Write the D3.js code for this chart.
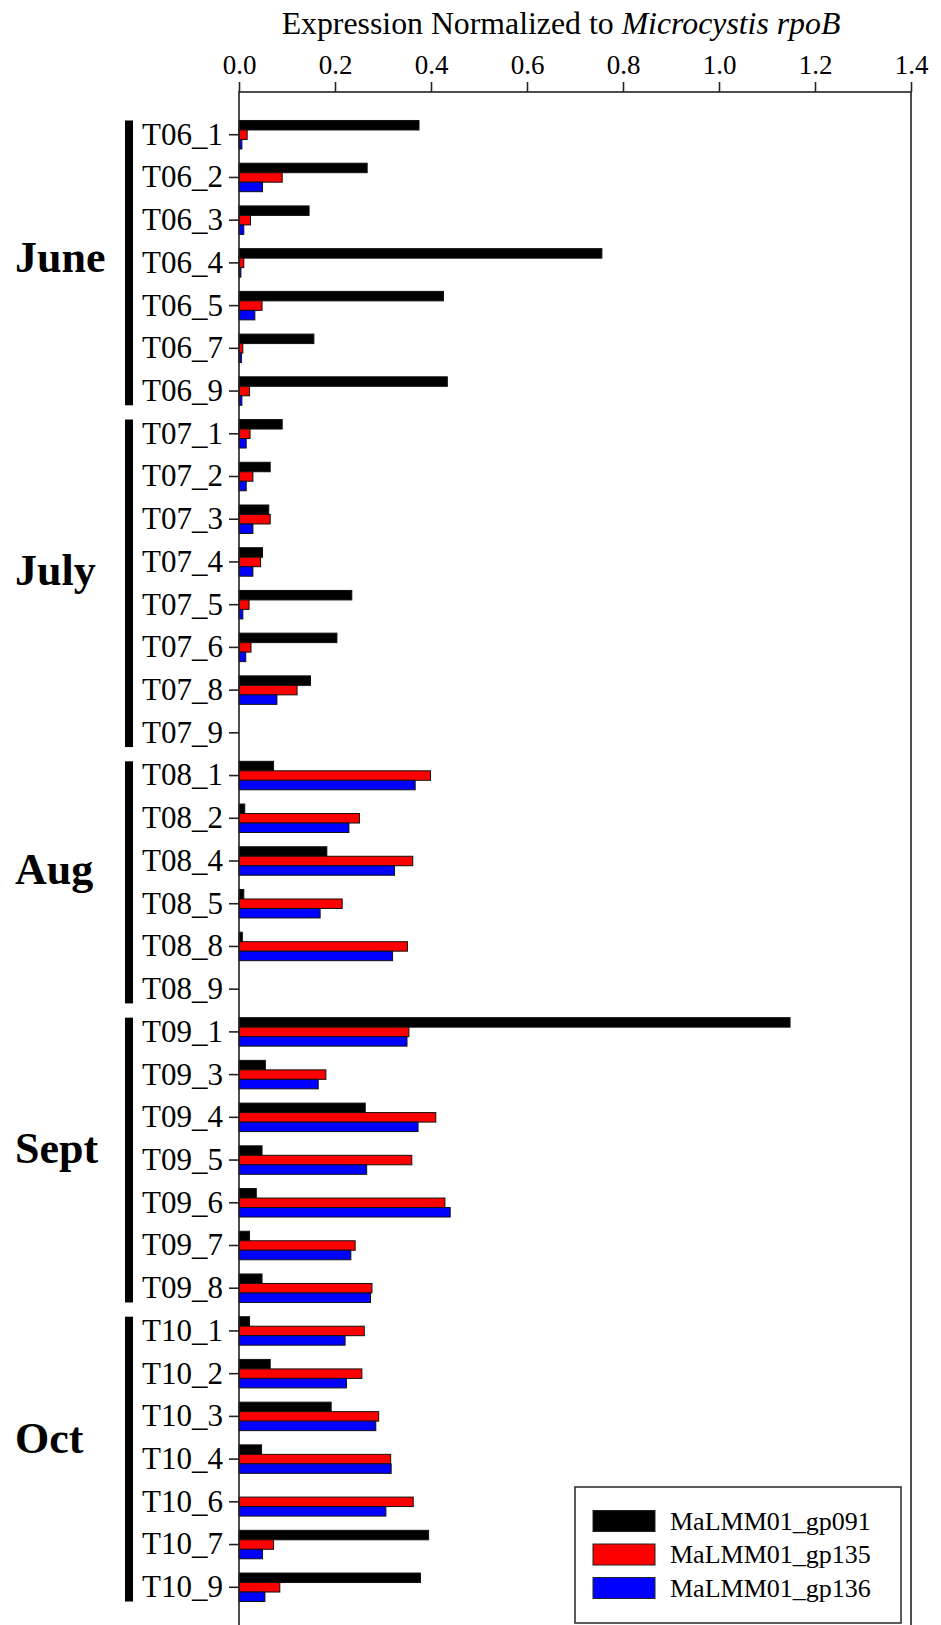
<!DOCTYPE html>
<html>
<head>
<meta charset="utf-8">
<script src="https://cdn.jsdelivr.net/npm/d3@7"></script>
<style>
  html, body { margin: 0; padding: 0; background: #fff; }
  svg { display: block; font-family: "Liberation Serif", "Times New Roman", serif; }
</style>
</head>
<body>
<svg id="chart" width="941" height="1625"></svg>
<script>
// Sample groups (month) and the samples in each
const months = ["June", "July", "Aug", "Sept", "Oct"];
const monthSamples = [
  ["T06_1", "T06_2", "T06_3", "T06_4", "T06_5", "T06_7", "T06_9"],
  ["T07_1", "T07_2", "T07_3", "T07_4", "T07_5", "T07_6", "T07_8", "T07_9"],
  ["T08_1", "T08_2", "T08_4", "T08_5", "T08_8", "T08_9"],
  ["T09_1", "T09_3", "T09_4", "T09_5", "T09_6", "T09_7", "T09_8"],
  ["T10_1", "T10_2", "T10_3", "T10_4", "T10_6", "T10_7", "T10_9"]
];
const samples = monthSamples.flat();

// Genes and their expression relative to Microcystis rpoB (one value per sample)
const genes = ["MaLMM01_gp091", "MaLMM01_gp135", "MaLMM01_gp136"];
const gp091 = [
  0.375, 0.267, 0.146, 0.756, 0.426, 0.156, 0.434,
  0.090, 0.065, 0.062, 0.049, 0.235, 0.204, 0.149, 0,
  0.072, 0.012, 0.183, 0.010, 0.007, 0,
  1.148, 0.055, 0.263, 0.048, 0.036, 0.022, 0.048,
  0.022, 0.065, 0.192, 0.047, 0, 0.395, 0.378
];
const gp135 = [
  0.017, 0.090, 0.024, 0.010, 0.048, 0.008, 0.022,
  0.023, 0.029, 0.065, 0.045, 0.021, 0.025, 0.121, 0,
  0.399, 0.251, 0.362, 0.215, 0.351, 0,
  0.354, 0.181, 0.410, 0.360, 0.429, 0.242, 0.277,
  0.261, 0.256, 0.291, 0.316, 0.363, 0.072, 0.085
];
const gp136 = [
  0.006, 0.049, 0.010, 0.004, 0.033, 0.005, 0.006,
  0.015, 0.015, 0.029, 0.029, 0.008, 0.014, 0.079, 0,
  0.367, 0.229, 0.324, 0.169, 0.320, 0,
  0.350, 0.165, 0.373, 0.266, 0.440, 0.233, 0.274,
  0.221, 0.224, 0.285, 0.317, 0.306, 0.049, 0.054
];
const geneColors = ["#000000", "#ff0000", "#0000ff"];
const xTicks = [0, 0.2, 0.4, 0.6, 0.8, 1.0, 1.2, 1.4];

const seriesValues = [gp091, gp135, gp136];

const svg = d3.select("#chart");
const plot = { left: 239, right: 911, top: 92, bottom: 1630 };

const x = d3.scaleLinear().domain([0, 1.4]).range([plot.left, plot.right]);
const y = d3.scaleBand()
  .domain(samples)
  .range([plot.top, plot.bottom])
  .paddingInner(1 / 3)
  .paddingOuter(2 / 3);
const ySub = d3.scaleBand().domain(genes).range([0, y.bandwidth()]);
const color = d3.scaleOrdinal().domain(genes).range(geneColors);

// Title
const title = svg.append("text")
  .attr("x", (plot.left + plot.right) / 2 - 14)
  .attr("y", 34)
  .attr("text-anchor", "middle")
  .attr("font-size", 31.8)
  .attr("fill", "#000");
title.append("tspan").text("Expression Normalized to ");
title.append("tspan").attr("font-style", "italic").text("Microcystis rpoB");

// Bars
const barData = [];
samples.forEach((s, i) => {
  genes.forEach((g, j) => {
    barData.push({ sample: s, gene: g, value: seriesValues[j][i] });
  });
});

svg.append("g")
  .selectAll("rect")
  .data(barData.filter(d => d.value > 0))
  .join("rect")
  .attr("x", x(0))
  .attr("y", d => y(d.sample) + ySub(d.gene))
  .attr("width", d => x(d.value) - x(0))
  .attr("height", ySub.bandwidth())
  .attr("fill", d => color(d.gene))
  .attr("stroke", "#111")
  .attr("stroke-width", 1);

// Frame around the plot area
svg.append("rect")
  .attr("x", plot.left)
  .attr("y", plot.top)
  .attr("width", plot.right - plot.left)
  .attr("height", plot.bottom - plot.top)
  .attr("fill", "none")
  .attr("stroke", "#222")
  .attr("stroke-width", 1.6);

// Top value axis
const xAxis = svg.append("g")
  .attr("transform", `translate(0,${plot.top})`)
  .call(d3.axisTop(x).tickValues(xTicks).tickFormat(d3.format(".1f")).tickSize(10).tickPadding(8));
xAxis.select(".domain").remove();
xAxis.selectAll(".tick line").attr("stroke", "#222").attr("stroke-width", 1.6);
xAxis.selectAll(".tick text")
  .attr("font-size", 27)
  .attr("font-family", "Liberation Serif, Times New Roman, serif")
  .attr("fill", "#000");

// Left sample axis
const yAxis = svg.append("g")
  .attr("transform", `translate(${plot.left},0)`)
  .call(d3.axisLeft(y).tickSize(10).tickPadding(6));
yAxis.select(".domain").remove();
yAxis.selectAll(".tick line").attr("stroke", "#222").attr("stroke-width", 1.6);
yAxis.selectAll(".tick text")
  .attr("font-size", 31)
  .attr("font-family", "Liberation Serif, Times New Roman, serif")
  .attr("fill", "#000");

// Month brackets and labels (labels nudged up slightly from the bracket middle)
const labelNudge = [-5, -13, -13, -12, -21];
const half = y.bandwidth() / 2;
months.forEach((m, k) => {
  const list = monthSamples[k];
  const y0 = y(list[0]);
  const y1 = y(list[list.length - 1]) + y.bandwidth();
  svg.append("rect")
    .attr("x", 125)
    .attr("y", y0)
    .attr("width", 8)
    .attr("height", y1 - y0)
    .attr("fill", "#000");
  const mid = (y(list[0]) + y(list[list.length - 1])) / 2 + half;
  svg.append("text")
    .attr("x", 15)
    .attr("y", mid + labelNudge[k])
    .attr("dy", "0.33em")
    .attr("font-size", 44)
    .attr("font-weight", "bold")
    .attr("fill", "#000")
    .text(m);
});

// Legend
const legend = svg.append("g");
legend.append("rect")
  .attr("x", 575)
  .attr("y", 1487)
  .attr("width", 326)
  .attr("height", 136)
  .attr("fill", "#fff")
  .attr("stroke", "#333")
  .attr("stroke-width", 1.6);
const ly = d3.scalePoint().domain(genes).range([1521, 1588]);
const items = legend.selectAll("g.item")
  .data(genes)
  .join("g")
  .attr("class", "item")
  .attr("transform", d => `translate(593,${ly(d)})`);
items.append("rect")
  .attr("x", 0)
  .attr("y", -10.5)
  .attr("width", 62)
  .attr("height", 21)
  .attr("fill", d => color(d))
  .attr("stroke", "#222")
  .attr("stroke-width", 1);
items.append("text")
  .attr("x", 77)
  .attr("dy", "0.33em")
  .attr("font-size", 26)
  .attr("fill", "#000")
  .text(d => d);
</script>
</body>
</html>
